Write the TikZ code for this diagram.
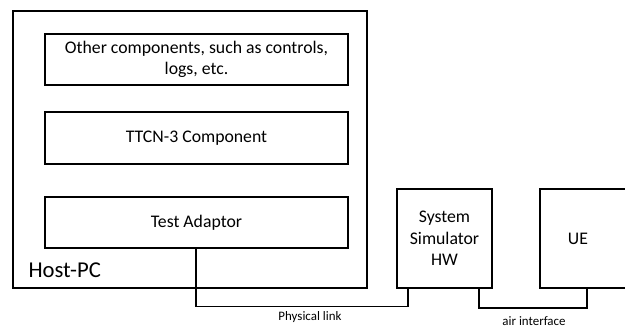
\documentclass[tikz,border=0pt]{standalone}
\usepackage{fontspec}
\setmainfont{Carlito}
\begin{document}
\begin{tikzpicture}[x=0.75pt,y=-0.75pt,
  box/.style={draw, line width=0.8pt, inner sep=0pt},
  wire/.style={draw, line width=1.2pt},
  txt/.style={font=\fontsize{13.3pt}{16pt}\selectfont, align=center},
  small/.style={font=\fontsize{9.7pt}{11pt}\selectfont}]
\useasboundingbox (0,0) rectangle (625,327);
\begin{scope}
\clip (0,0) rectangle (625,327);
% host computer frame and its software layers
\node[box, minimum width=354*0.75pt, minimum height=277*0.75pt] (host) at (190,149.5) {};
\node[anchor=base west, font=\fontsize{17pt}{20pt}\selectfont, inner sep=0pt] (hostlbl) at (28.3,277.5) {Host-PC};
\node[box, txt, minimum width=303*0.75pt, minimum height=51*0.75pt] (other) at (196.5,59.5)
  {Other components, such as controls,\\logs, etc.};
\node[box, txt, minimum width=303*0.75pt, minimum height=52*0.75pt] (ttcn) at (196.5,138) {TTCN-3 Component};
\node[box, txt, minimum width=303*0.75pt, minimum height=51*0.75pt] (adaptor) at (196.5,222.5) {Test Adaptor};
% external hardware
\node[box, txt, minimum width=95*0.75pt, minimum height=99*0.75pt] (ss) at (444.5,238.5)
  {System\\Simulator\\HW};
\node[box, minimum width=100*0.75pt, minimum height=99*0.75pt] (ue) at (590,238.5) {};
\node[txt] (uelbl) at (578,238.5) {UE};
% connections
\coordinate (a1) at (196,306.5);
\coordinate (a2) at (408,306.5);
\draw[wire] (adaptor.south -| a1) -- (a1) -- (a2) -- (a2 |- ss.south);
\coordinate (b1) at (479,308);
\coordinate (b2) at (587,308);
\draw[wire] (ss.south -| b1) -- (b1) -- (b2) -- (b2 |- ue.south);
\node[small] (phys) at (310,317) {Physical link};
\node[small] (air) at (534,321) {air interface};
\end{scope}
\end{tikzpicture}
\end{document}
